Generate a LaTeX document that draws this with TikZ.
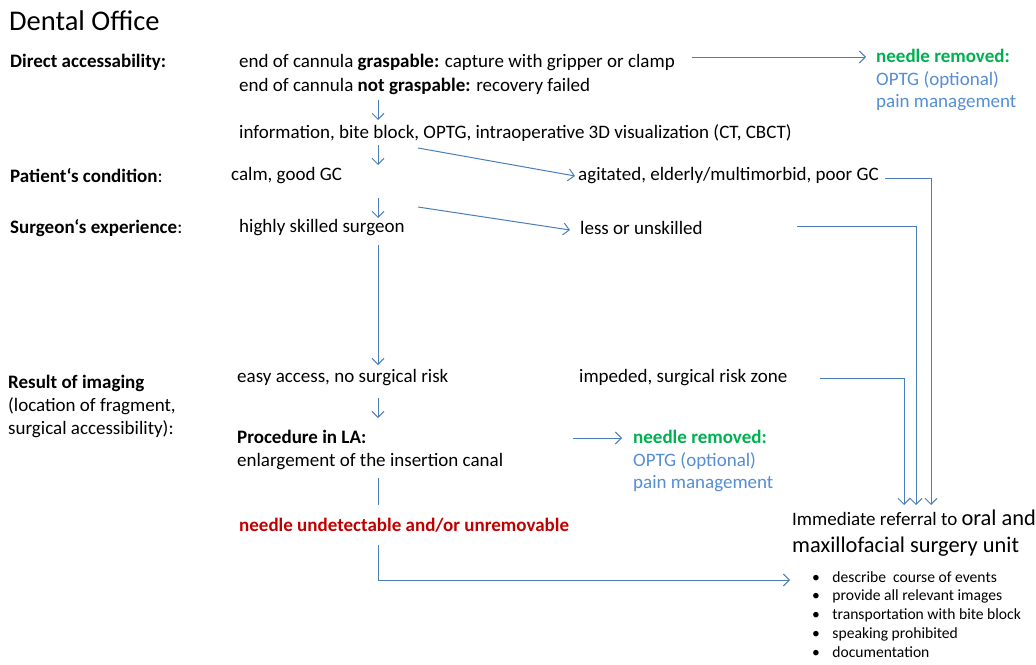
\documentclass[tikz,border=0pt]{standalone}
\usepackage{fontspec}
\setmainfont{Carlito}
\usetikzlibrary{arrows.meta}
\definecolor{lblue}{HTML}{4A7EBB}
\definecolor{tblue}{HTML}{558ED5}
\definecolor{ngreen}{HTML}{00B050}
\definecolor{nred}{HTML}{C00000}
\tikzset{
  txt/.style={anchor=west, inner sep=0pt, font=\fontsize{19}{23}\selectfont},
  conn/.style={draw=lblue, line width=1pt, -{Straight Barb[length=6pt,width=12pt,line width=1pt]}},
  plain/.style={draw=lblue, line width=1pt},
}
\begin{document}
\begin{tikzpicture}[x=1pt,y=-1pt]
\useasboundingbox[fill=white] (0,0) rectangle (1036,664);
% title and left labels
\node[txt, font=\fontsize{28.5}{32}\selectfont] (title) at (9,21) {Dental Office};
\node[txt] (l1) at (10,62) {\textbf{Direct accessability:}};
\node[txt] (l2) at (10,176) {\textbf{Patient‘s condition}:};
\node[txt] (l3) at (10,228) {\textbf{Surgeon‘s experience}:};
\node[txt, align=left, font=\fontsize{19}{23}\selectfont, anchor=north west] (l4) at (8,375) {\textbf{Result of imaging}\\(location of fragment,\\surgical accessibility):};
% middle column
\node[txt] (g1) at (239,62) {end of cannula \textbf{graspable:} capture with gripper or clamp};
\node[txt] (ng) at (239,86) {end of cannula \textbf{not graspable:} recovery failed};
\node[txt] (info) at (239,133) {information, bite block, OPTG, intraoperative 3D visualization (CT, CBCT)};
\node[txt] (calm) at (231,176) {calm, good GC};
\node[txt] (agit) at (578,176) {agitated, elderly/multimorbid, poor GC};
\node[txt] (high) at (239,228) {highly skilled surgeon};
\node[txt] (less) at (580,228) {less or unskilled};
\node[txt] (easy) at (237,378) {easy access, no surgical risk};
\node[txt] (imp) at (579,378) {impeded, surgical risk zone};
\node[txt, align=left, font=\fontsize{19}{23}\selectfont, anchor=north west] (proc) at (237,430) {\textbf{Procedure in LA:}\\enlargement of the insertion canal};
\node[txt, text=nred] (undet) at (239,525) {\textbf{needle undetectable and/or unremovable}};
% needle removed boxes
\node[txt, align=left, font=\fontsize{19}{22.5}\selectfont, anchor=north west, text=tblue] (nr1) at (876,49) {\textcolor{ngreen}{\textbf{needle removed:}}\\OPTG (optional)\\pain management};
\node[txt, align=left, font=\fontsize{19}{22.5}\selectfont, anchor=north west, text=tblue] (nr2) at (633,430) {\textcolor{ngreen}{\textbf{needle removed:}}\\OPTG (optional)\\pain management};
% referral
\node[txt, align=left, anchor=north west, font=\fontsize{22.4}{27}\selectfont] (ref) at (792,510) {{\fontsize{19}{23}\selectfont Immediate referral to }oral and\\maxillofacial surgery unit};
\node[txt, anchor=north west, font=\fontsize{15.6}{18.7}\selectfont] (bul) at (812,569) {\begin{tabular}{@{}l@{\hspace{12.5pt}}l@{}}
\textbullet & describe\ \ course of events\\
\textbullet & provide all relevant images\\
\textbullet & transportation with bite block\\
\textbullet & speaking prohibited\\
\textbullet & documentation
\end{tabular}};
% helper coordinates
\coordinate (col) at (378,0);
\coordinate (gs) at (692,57);
\coordinate (d1s) at (418,148);
\coordinate (d1e) at (575,176);
\coordinate (d2s) at (418,207);
\coordinate (d2e) at (570,230);
\coordinate (as) at (885,178);
\coordinate (ls) at (797,226);
\coordinate (is) at (820,378);
\coordinate (r1) at (904,505);
\coordinate (r2) at (916,505);
\coordinate (r3) at (931,505);
\coordinate (ps) at (573,438);
\coordinate (pe) at (622,438);
\coordinate (u1) at (378,478);
\coordinate (u2) at (378,505);
\coordinate (u3) at (378,545);
\coordinate (u4) at (790,580);
% connectors
\draw[conn, shorten >=10pt] (gs) -- (nr1.west |- gs);
\draw[conn] (col |- 0,100) -- (col |- 0,120);
\draw[conn] (col |- 0,145) -- (col |- 0,165);
\draw[conn] (d1s) -- (d1e);
\draw[conn] (col |- 0,198) -- (col |- 0,218);
\draw[conn] (d2s) -- (d2e);
\draw[conn] (col |- 0,245) -- (col |- 0,365);
\draw[conn] (col |- 0,398) -- (col |- 0,418);
\draw[conn] (ps) -- (pe);
\draw[conn] (as) -| (r3);
\draw[conn] (ls) -| (r2);
\draw[conn] (is) -| (r1);
\draw[plain] (u1) -- (u2);
\draw[conn] (u3) |- (u4);
\end{tikzpicture}
\end{document}
